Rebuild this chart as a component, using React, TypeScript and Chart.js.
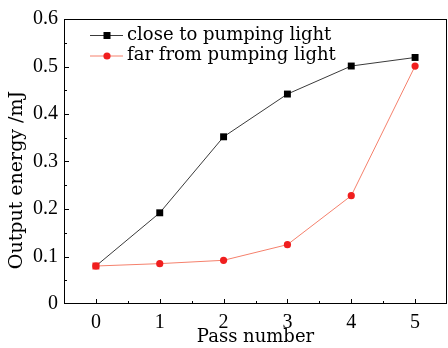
import React, { useEffect, useRef } from "react";
import { Chart, registerables } from "chart.js";

Chart.register(...registerables);

const passNumbers = [0, 1, 2, 3, 4, 5];
const closeValues = [0.08, 0.192, 0.352, 0.442, 0.501, 0.519];
const farValues = [0.08, 0.085, 0.092, 0.125, 0.228, 0.501];
const xTicks = [0, 1, 2, 3, 4, 5];
const yTicks = [0, 0.1, 0.2, 0.3, 0.4, 0.5, 0.6];
const seriesNames = ["close to pumping light", "far from pumping light"];
const xTitle = "Pass number";
const yTitle = "Output energy /mJ";

const SERIF = "'DejaVu Serif', serif";
const TICKFONT = "'Liberation Serif', serif";
const RED = "#f01e1e";
const REDLINE = "#f5806c";
const BLACKLINE = "#3a3a3a";

const framePlugin = {
  id: "frame",
  afterDraw(chart: any) {
    const { ctx, chartArea } = chart;
    const { left, right, top, bottom } = chartArea;
    const xs = chart.scales.x;
    const ys = chart.scales.y;
    ctx.save();
    ctx.strokeStyle = "#000";
    ctx.lineWidth = 1;
    ctx.strokeRect(left + 0.5, top + 0.5, right - left - 1, bottom - top - 1);
    ctx.beginPath();
    for (let i = -1; i <= 11; i++) {
      const v = i * 0.5;
      const px = Math.round(xs.getPixelForValue(v)) + 0.5;
      if (px <= left + 1 || px >= right - 1) continue;
      const len = i % 2 === 0 ? 5 : 3;
      ctx.moveTo(px, bottom);
      ctx.lineTo(px, bottom - len);
    }
    for (let i = 0; i <= 12; i++) {
      const v = i * 0.05;
      const py = Math.round(ys.getPixelForValue(v)) + 0.5;
      if (py <= top + 1 || py >= bottom - 1) continue;
      const len = i % 2 === 0 ? 5 : 3;
      ctx.moveTo(left, py);
      ctx.lineTo(left + len, py);
    }
    ctx.stroke();

    // y title
    ctx.save();
    ctx.translate(17, 180);
    ctx.rotate(-Math.PI / 2);
    ctx.font = `19px ${SERIF}`;
    ctx.fillStyle = "#000";
    ctx.textAlign = "center";
    ctx.textBaseline = "middle";
    ctx.fillText(yTitle, 0, 0);
    ctx.restore();

    // legend
    ctx.font = `18px ${SERIF}`;
    ctx.textBaseline = "middle";
    ctx.textAlign = "left";
    const rows = [
      { name: seriesNames[0], line: BLACKLINE, fill: "#000", shape: "square", y: 35 },
      { name: seriesNames[1], line: REDLINE, fill: RED, shape: "circle", y: 55.5 },
    ];
    rows.forEach((r) => {
      ctx.strokeStyle = r.line;
      ctx.beginPath();
      ctx.moveTo(90, r.y + 0.5);
      ctx.lineTo(123, r.y + 0.5);
      ctx.stroke();
      ctx.fillStyle = r.fill;
      if (r.shape === "square") {
        ctx.fillRect(103.5, r.y - 3, 7, 7);
      } else {
        ctx.beginPath();
        ctx.arc(107, r.y + 0.5, 3.6, 0, Math.PI * 2);
        ctx.fill();
      }
      ctx.fillStyle = "#000";
      ctx.fillText(r.name, 127, r.y);
    });
    ctx.restore();
  },
};

export default function App() {
  const ref = useRef<HTMLCanvasElement>(null);
  useEffect(() => {
    if (!ref.current) return;
    const chart = new Chart(ref.current, {
      type: "line",
      data: {
        datasets: [
          {
            label: seriesNames[1],
            data: passNumbers.map((x, i) => ({ x, y: farValues[i] })),
            borderColor: REDLINE,
            borderWidth: 1,
            backgroundColor: RED,
            pointBackgroundColor: RED,
            pointBorderWidth: 0,
            pointRadius: 3.6,
            pointStyle: "circle",
            order: 1,
          },
          {
            label: seriesNames[0],
            data: passNumbers.map((x, i) => ({ x, y: closeValues[i] })),
            borderColor: BLACKLINE,
            borderWidth: 1,
            backgroundColor: "#000",
            pointBackgroundColor: (c: any) => (c.dataIndex === 0 ? RED : "#000"),
            pointBorderWidth: 0,
            pointRadius: 4.9,
            pointStyle: "rect",
            order: 2,
          },
        ],
      },
      options: {
        animation: false,
        responsive: false,
        events: [],
        layout: { autoPadding: false, padding: { top: 19, right: 1, left: 0, bottom: 0 } },
        plugins: { legend: { display: false }, tooltip: { enabled: false } },
        scales: {
          x: {
            type: "linear",
            min: -0.5,
            max: 5.5,
            afterBuildTicks: (s: any) => {
              s.ticks = xTicks.map((v) => ({ value: v }));
            },
            afterFit: (s: any) => {
              s.height = 44;
              s.paddingLeft = 0;
              s.paddingRight = 0;
            },
            grid: { display: false, drawTicks: false },
            border: { display: false },
            ticks: {
              color: "#000",
              font: { family: TICKFONT, size: 20 },
              padding: 7,
              callback: (v: any) => String(v),
            },
            title: {
              display: true,
              text: xTitle,
              color: "#000",
              font: { family: SERIF, size: 18 },
              padding: { top: -3, bottom: 0 },
            },
          },
          y: {
            type: "linear",
            min: 0,
            max: 0.6,
            afterBuildTicks: (s: any) => {
              s.ticks = yTicks.map((v) => ({ value: v }));
            },
            afterFit: (s: any) => {
              s.width = 64;
              s.paddingTop = 0;
              s.paddingBottom = 0;
            },
            grid: { display: false, drawTicks: false },
            border: { display: false },
            ticks: {
              color: "#000",
              font: { family: TICKFONT, size: 20 },
              padding: 6,
              callback: (v: any) => (v === 0 ? "0" : Number(v).toFixed(1)),
            },
            title: { display: false },
          },
        },
      },
      plugins: [framePlugin],
    } as any);
    return () => chart.destroy();
  }, []);
  return (
    <div style={{ position: "absolute", left: 0, top: 0, width: 448, height: 348, background: "#fff" }}>
      <canvas ref={ref} width={448} height={348} />
    </div>
  );
}
